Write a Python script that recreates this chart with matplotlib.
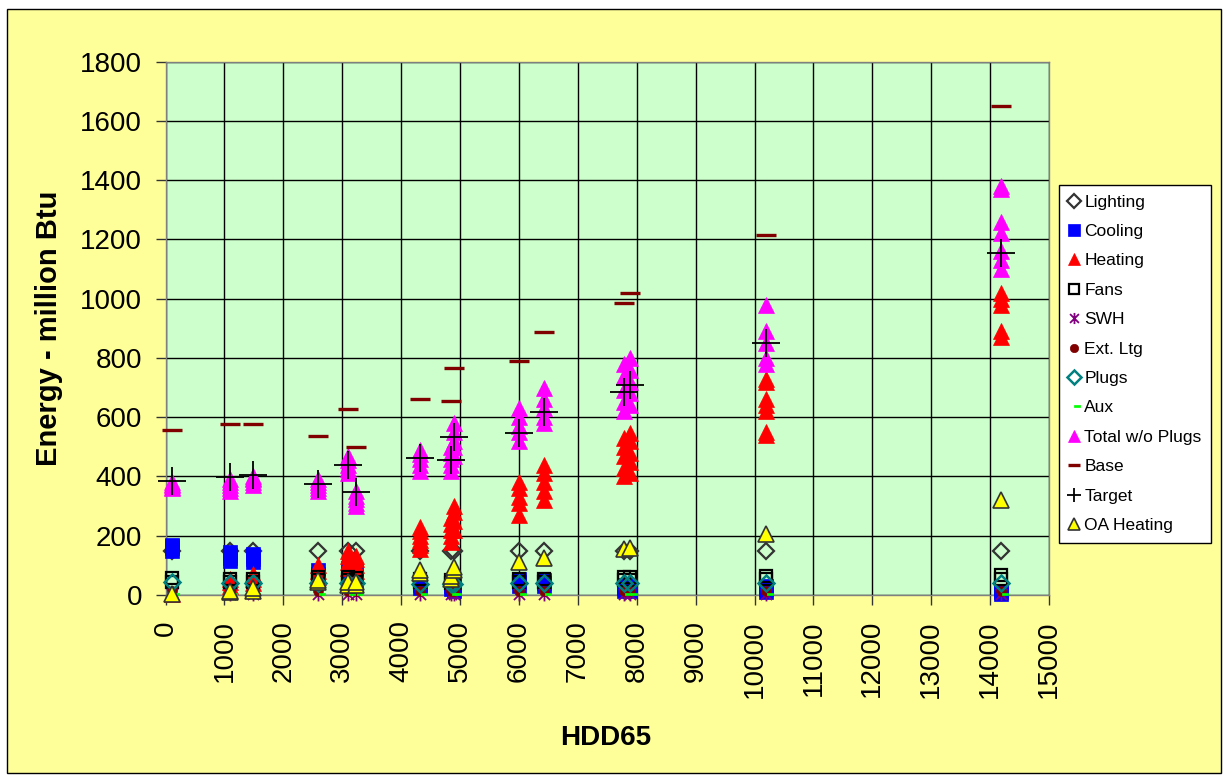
import matplotlib
matplotlib.use('Agg')
import matplotlib.pyplot as plt
import numpy as np
from matplotlib.patches import Rectangle
from matplotlib.path import Path

plt.rcParams['font.family'] = ['Liberation Sans', 'DejaVu Sans']

# heating degree days of each climate location
hdd = [110, 1095, 1490, 2590, 3100, 3235, 4320, 4855, 4895, 6005, 6425, 7785, 7885, 10195, 14180]

# energy (million Btu), one list per location
lighting = [[150], [150], [150], [150], [150], [150], [150], [150], [150],
            [150], [150], [150], [150], [150], [150]]
cooling = [[150, 158, 165, 170], [115, 125, 135, 145], [110, 120, 130, 140], [55, 70, 85], [50, 70, 90],
           [40, 60, 80], [25, 35, 45], [20, 30, 40], [15, 25, 35], [30, 45, 55], [30, 40, 50],
           [15, 25, 35], [15, 25, 35], [10, 20, 30], [5, 10, 15]]
heating = [[5], [30, 45, 55], [40, 55, 70], [60, 80, 100], [90, 110, 130, 150], [80, 100, 120, 130],
           [155, 170, 185, 200, 215, 230], [180, 200, 220, 240, 260], [220, 250, 280, 300],
           [270, 310, 330, 360, 380], [320, 350, 380, 410, 440], [400, 430, 470, 500, 530],
           [410, 450, 480, 520, 545], [540, 550, 620, 640, 660, 720, 730], [870, 890, 980, 1000, 1020]]
fans = [[45, 57], [45, 55], [45, 55], [50, 60], [50, 62], [45, 58], [45, 55], [40, 50], [40, 52],
        [45, 55], [45, 55], [50, 60], [50, 62], [55, 65], [55, 68]]
swh = [[5], [5], [5], [5], [5], [5], [5], [5], [5], [5], [5], [5], [5], [5], [5]]
ext_ltg = [[12], [12], [12], [12], [12], [12], [12], [12], [12], [12], [12], [12], [12], [12], [12]]
plugs = [[45], [42], [42], [40], [40], [40], [38], [38], [38], [40], [40], [40], [40], [40], [40]]
aux = [[5], [5], [5], [5], [5], [5], [5], [5], [5], [5], [5], [5], [5], [5], [5]]
total = [[360, 365, 370, 375, 380], [350, 360, 370, 380, 390], [370, 380, 390, 395, 400],
         [350, 360, 370, 380, 390], [410, 425, 440, 455, 470], [300, 310, 325, 335, 350],
         [420, 440, 460, 475, 490], [420, 440, 460, 480, 500], [470, 500, 520, 550, 580],
         [520, 550, 570, 600, 630], [580, 600, 630, 660, 700], [620, 650, 690, 740, 780],
         [640, 680, 720, 760, 800], [780, 800, 850, 890, 980], [1100, 1130, 1160, 1220, 1260, 1370, 1380]]
base = [[557], [578], [578], [536], [628], [499], [661], [656], [766], [790], [888], [985], [1019], [1215], [1650]]
target = [[385], [399], [405], [376], [439], [348], [462], [455], [533], [548], [618], [686], [709], [850], [1155]]
oa_heating = [[3], [10, 15], [15, 25], [45, 50], [35, 45], [35, 45], [75, 85], [55, 65], [85, 95],
              [110], [125], [155], [160], [205], [320]]

labels = ['Lighting', 'Cooling', 'Heating', 'Fans', 'SWH', 'Ext. Ltg', 'Plugs', 'Aux',
          'Total w/o Plugs', 'Base', 'Target', 'OA Heating']


def flat(series):
    xs, ys = [], []
    for h, vals in zip(hdd, series):
        for v in vals:
            xs.append(h)
            ys.append(v)
    return xs, ys


# custom markers: excel style asterisk and right-shifted dash
star = Path([(0, -1), (0, 1), (-0.8, -0.8), (0.8, 0.8), (-0.8, 0.8), (0.8, -0.8)],
            [Path.MOVETO, Path.LINETO, Path.MOVETO, Path.LINETO, Path.MOVETO, Path.LINETO])
dash = [(0.1, -0.25), (1.3, -0.25), (1.3, 0.25), (0.1, 0.25), (0.1, -0.25)]

styles = [
    dict(marker='D', ms=8, mfc='none', mec='#333333', mew=1.6),
    dict(marker='s', ms=10, mfc='#0000FF', mec='#0000FF', mew=0.5),
    dict(marker='^', ms=11, mfc='#FF0000', mec='#FF0000', mew=0.5),
    dict(marker='s', ms=9, mfc='none', mec='black', mew=1.6),
    dict(marker=star, ms=10, mfc='none', mec='#800080', mew=1.3),
    dict(marker='o', ms=7, mfc='#800000', mec='#800000', mew=0.5),
    dict(marker='D', ms=8, mfc='none', mec='#008080', mew=1.8),
    dict(marker=dash, ms=10, mfc='#00FF00', mec='#00FF00', mew=0.5),
    dict(marker='^', ms=11, mfc='#FF00FF', mec='#FF00FF', mew=0.5),
    dict(marker='_', ms=14.5, mfc='#800000', mec='#800000', mew=2.4),
    dict(marker='+', ms=20, mfc='black', mec='black', mew=1.3),
    dict(marker='^', ms=11, mfc='#FFFF00', mec='#333333', mew=1.2),
]
# marker sizes used in the legend box
legend_ms = [7, 8, 9, 7, 8, 6, 7, 8, 9, 9, 10, 9]

fig = plt.figure(figsize=(12.25, 7.76), dpi=100)
fig.patch.set_facecolor('white')
fig.patches.append(Rectangle((7 / 1225, 3 / 776), 1214 / 1225, 764 / 776, transform=fig.transFigure,
                             facecolor='#FFFF99', edgecolor='black', linewidth=1, zorder=-10))

ax = fig.add_axes([165.5 / 1225, 1 - 595 / 776, (1049 - 165.5) / 1225, (595 - 61.5) / 776])
ax.set_facecolor('#CCFFCC')

series = [lighting, cooling, heating, fans, swh, ext_ltg, plugs, aux, total, base, target, oa_heating]
for i, (data, lab, st) in enumerate(zip(series, labels, styles)):
    xs, ys = flat(data)
    ax.plot(xs, ys, linestyle='none', label=lab, zorder=3 + i, clip_on=False, **st)

ax.set_xlim(0, 15000)
ax.set_ylim(0, 1800)
ax.set_xticks(np.arange(0, 15001, 1000))
ax.set_yticks(np.arange(0, 1801, 200))
ax.grid(True, color='black', linewidth=1)
ax.set_axisbelow(True)
for s in ax.spines.values():
    s.set_color('#808080')
    s.set_linewidth(1)
ax.tick_params(axis='both', direction='out', length=7, width=1, color='#333333', labelsize=20)
ax.tick_params(axis='y', pad=10)
ax.tick_params(axis='x', pad=11, labelrotation=90)

fig.text(49 / 1225, 1 - 328 / 776, 'Energy - million Btu', rotation=90, ha='center', va='center',
         fontsize=21, fontweight='bold')
fig.text(606 / 1225, 1 - 738 / 776, 'HDD65', ha='center', va='center', fontsize=20, fontweight='bold')

leg = ax.legend(loc='upper left', bbox_to_anchor=(1059 / 1225, 1 - 185 / 776), bbox_transform=fig.transFigure,
                borderaxespad=0, fontsize=12.5, frameon=True, fancybox=False, edgecolor='black',
                handlelength=0.6, handletextpad=0.3, labelspacing=0.82,
                borderpad=0.55, framealpha=1)
leg.get_frame().set_linewidth(1)
for h, ms in zip(leg.legend_handles, legend_ms):
    h.set_markersize(ms)

fig.savefig('out.png', dpi=100)
